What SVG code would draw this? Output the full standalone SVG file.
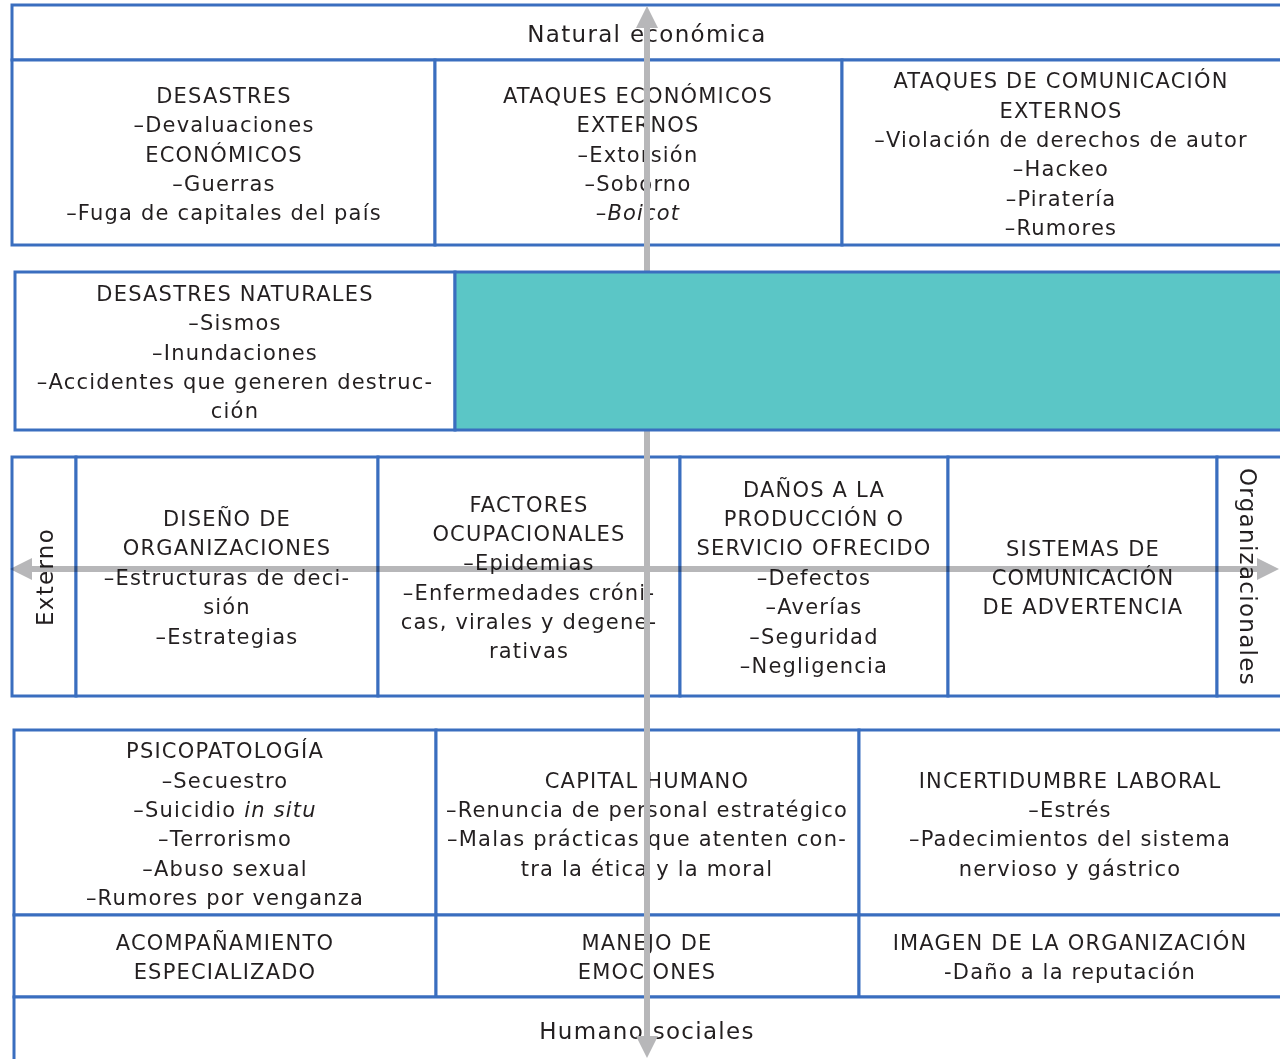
<svg xmlns="http://www.w3.org/2000/svg" width="1280" height="1059" viewBox="0 0 1280 1059">
<style>
.b{fill:#fff;stroke:#3a6ebf;stroke-width:3}
.t{font-family:"DejaVu Sans","Liberation Sans",sans-serif;font-size:21px;letter-spacing:1.2px;fill:#231f20;text-anchor:middle}
.big{font-size:23px;letter-spacing:1.3px}
.ax{stroke:#b7b7b9;stroke-width:6;fill:none}
.ah{fill:#b7b7b9}
.mul{mix-blend-mode:multiply}
</style>
<rect width="1280" height="1059" fill="#fff"/>
<g id="top"><rect class="b" x="12" y="5" width="1272" height="55"/><text class="t big" x="647" y="42">Natural económica</text></g>
<g id="r1c1"><rect class="b" x="12" y="60" width="423" height="185"/>
<text class="t" x="224" y="103">DESASTRES</text><text class="t" x="224" y="132">–Devaluaciones</text><text class="t" x="224" y="162">ECONÓMICOS</text><text class="t" x="224" y="191">–Guerras</text><text class="t" x="224" y="220">–Fuga de capitales del país</text></g>
<g id="r1c2"><rect class="b" x="435" y="60" width="407" height="185"/>
<text class="t" x="638" y="103">ATAQUES ECONÓMICOS</text><text class="t" x="638" y="132">EXTERNOS</text><text class="t" x="638" y="162">–Extorsión</text><text class="t" x="638" y="191">–Soborno</text><text class="t" x="638" y="220">–<tspan font-style="italic">Boicot</tspan></text></g>
<g id="r1c3"><rect class="b" x="842" y="60" width="442" height="185"/>
<text class="t" x="1061" y="88">ATAQUES DE COMUNICACIÓN</text><text class="t" x="1061" y="118">EXTERNOS</text><text class="t" x="1061" y="147">–Violación de derechos de autor</text><text class="t" x="1061" y="176">–Hackeo</text><text class="t" x="1061" y="206">–Piratería</text><text class="t" x="1061" y="235">–Rumores</text></g>
<g id="r2c1"><rect class="b" x="15" y="272" width="440" height="158"/>
<text class="t" x="235" y="301">DESASTRES NATURALES</text><text class="t" x="235" y="330">–Sismos</text><text class="t" x="235" y="360">–Inundaciones</text><text class="t" x="235" y="389">–Accidentes que generen destruc-</text><text class="t" x="235" y="418">ción</text></g>
<g id="r3c0"><rect class="b" x="12" y="457" width="64" height="239"/><text class="t big" transform="translate(53,577) rotate(-90)">Externo</text></g>
<g id="r3c1"><rect class="b" x="76" y="457" width="302" height="239"/>
<text class="t" x="227" y="526">DISEÑO DE</text><text class="t" x="227" y="555">ORGANIZACIONES</text><text class="t" x="227" y="585">–Estructuras de deci-</text><text class="t" x="227" y="614">sión</text><text class="t" x="227" y="644">–Estrategias</text></g>
<g id="r3c2"><rect class="b" x="378" y="457" width="302" height="239"/>
<text class="t" x="529" y="512">FACTORES</text><text class="t" x="529" y="541">OCUPACIONALES</text><text class="t" x="529" y="570">–Epidemias</text><text class="t" x="529" y="600">–Enfermedades cróni-</text><text class="t" x="529" y="629">cas, virales y degene-</text><text class="t" x="529" y="658">rativas</text></g>
<g id="r3c3"><rect class="b" x="680" y="457" width="268" height="239"/>
<text class="t" x="814" y="497">DAÑOS A LA</text><text class="t" x="814" y="526">PRODUCCIÓN O</text><text class="t" x="814" y="555">SERVICIO OFRECIDO</text><text class="t" x="814" y="585">–Defectos</text><text class="t" x="814" y="614">–Averías</text><text class="t" x="814" y="644">–Seguridad</text><text class="t" x="814" y="673">–Negligencia</text></g>
<g id="r3c4"><rect class="b" x="948" y="457" width="269" height="239"/>
<text class="t" x="1083" y="556">SISTEMAS DE</text><text class="t" x="1083" y="585">COMUNICACIÓN</text><text class="t" x="1083" y="614">DE ADVERTENCIA</text></g>
<g id="r3c5"><rect class="b" x="1217" y="457" width="67" height="239"/><text class="t big" transform="translate(1240,577) rotate(90)">Organizacionales</text></g>
<g id="r4c1"><rect class="b" x="14" y="730" width="422" height="185"/>
<text class="t" x="225" y="758">PSICOPATOLOGÍA</text><text class="t" x="225" y="788">–Secuestro</text><text class="t" x="225" y="817">–Suicidio <tspan font-style="italic">in situ</tspan></text><text class="t" x="225" y="846">–Terrorismo</text><text class="t" x="225" y="876">–Abuso sexual</text><text class="t" x="225" y="905">–Rumores por venganza</text></g>
<g id="r4c2"><rect class="b" x="436" y="730" width="423" height="185"/>
<text class="t" x="647" y="788">CAPITAL HUMANO</text><text class="t" x="647" y="817">–Renuncia de personal estratégico</text><text class="t" x="647" y="846">–Malas prácticas que atenten con-</text><text class="t" x="647" y="876">tra la ética y la moral</text></g>
<g id="r4c3"><rect class="b" x="859" y="730" width="425" height="185"/>
<text class="t" x="1070" y="788">INCERTIDUMBRE LABORAL</text><text class="t" x="1070" y="817">–Estrés</text><text class="t" x="1070" y="846">–Padecimientos del sistema</text><text class="t" x="1070" y="876">nervioso y gástrico</text></g>
<g id="r5c1"><rect class="b" x="14" y="915" width="422" height="82"/>
<text class="t" x="225" y="950">ACOMPAÑAMIENTO</text><text class="t" x="225" y="979">ESPECIALIZADO</text></g>
<g id="r5c2"><rect class="b" x="436" y="915" width="423" height="82"/>
<text class="t" x="647" y="950">MANEJO DE</text><text class="t" x="647" y="979">EMOCIONES</text></g>
<g id="r5c3"><rect class="b" x="859" y="915" width="425" height="82"/>
<text class="t" x="1070" y="950">IMAGEN DE LA ORGANIZACIÓN</text><text class="t" x="1070" y="979">-Daño a la reputación</text></g>
<g id="bottom"><rect class="b" x="14" y="997" width="1270" height="70"/><text class="t big" x="647" y="1039">Humano sociales</text></g>
<g id="connectors">
<g class="mul">
<line class="ax" x1="30" y1="569" x2="1258" y2="569"/>
<polygon class="ah" points="10,569 32,558 32,580"/>
<polygon class="ah" points="1279,569 1257,558 1257,580"/>
</g>
<line class="ax" x1="647" y1="26" x2="647" y2="1038"/>
<polygon class="ah" points="647,6 636,28 658,28"/>
<polygon class="ah" points="647,1058 636,1036 658,1036"/>
</g>
<g id="r2c2"><rect x="455" y="272" width="830" height="158" fill="#5bc6c6" stroke="#3a6ebf" stroke-width="3"/></g>
</svg>
